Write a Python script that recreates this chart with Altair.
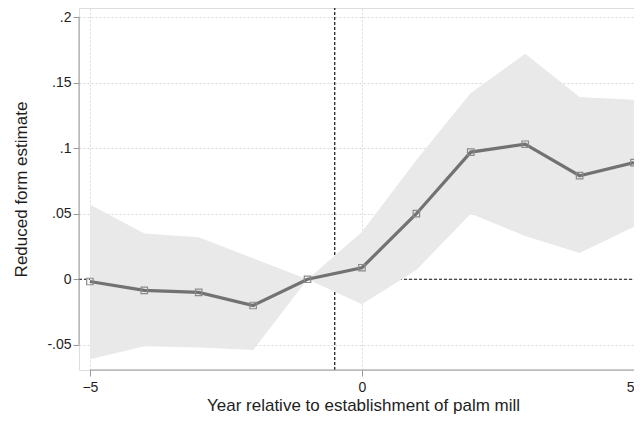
import altair as alt
import pandas as pd

# ---- data ----
years = [-5, -4, -3, -2, -1, 0, 1, 2, 3, 4, 5]
estimate = [-0.0017, -0.0085, -0.010, -0.020, 0.0, 0.0088, 0.050, 0.097, 0.103, 0.079, 0.089]
ci_upper = [0.057, 0.035, 0.032, 0.016, 0.0, 0.036, 0.091, 0.142, 0.172, 0.139, 0.137]
ci_lower = [-0.061, -0.051, -0.052, -0.054, 0.0, -0.019, 0.007, 0.050, 0.033, 0.020, 0.040]

x_ticks = [-5, 0, 5]
y_ticks = [-0.05, 0, 0.05, 0.1, 0.15, 0.2]
y_tick_labels = ["-.05", "0", ".05", ".1", ".15", ".2"]
event_x = -0.5
x_domain = [-5.2, 5]
y_domain = [-0.0692, 0.2069]

df = pd.DataFrame({"year": years, "est": estimate, "lo": ci_lower, "hi": ci_upper})

label_expr = "".join(
    f"abs(datum.value - ({v})) < 1e-6 ? '{l}' : " for v, l in zip(y_ticks, y_tick_labels)
) + "''"

FONT = "Liberation Sans"
GRID = "#d9d9d9"
AXIS = "#9a9a9a"
TXT = "#1e1e1e"

xscale = alt.Scale(domain=x_domain, nice=False, zero=False)
yscale = alt.Scale(domain=y_domain, nice=False, zero=False)

xaxis = alt.Axis(values=x_ticks, title="Year relative to establishment of palm mill",
                 grid=True, gridColor=GRID, gridDash=[2, 2], gridWidth=1,
                 domain=False, tickColor=AXIS, tickSize=6, labelPadding=4,
                 labelFlush=True,
                 labelFont=FONT, labelFontSize=14, labelColor=TXT,
                 titleFont=FONT, titleFontSize=17, titleFontWeight="normal",
                 titleColor=TXT, titlePadding=3, titleX=284)
yaxis = alt.Axis(values=y_ticks, labelExpr=label_expr, title="Reduced form estimate",
                 grid=True, gridColor=GRID, gridDash=[2, 2], gridWidth=1,
                 domain=False, tickColor=AXIS, tickSize=6, labelPadding=2,
                 labelFont=FONT, labelFontSize=14, labelColor=TXT,
                 titleFont=FONT, titleFontSize=17, titleFontWeight="normal",
                 titleColor=TXT, titlePadding=16)

X = alt.X("year:Q", scale=xscale, axis=xaxis)
Y = alt.Y("est:Q", scale=yscale, axis=yaxis)

hline_df = pd.DataFrame({"year": [x_domain[0]], "year2": [x_domain[1]], "est": [0.0]})
vline_df = pd.DataFrame({"year": [event_x], "est": [y_domain[0]], "est2": [y_domain[1]]})
yaxis_df = pd.DataFrame({"year": [x_domain[0]], "est": [y_ticks[0]], "est2": [y_ticks[-1]]})
xaxis_df = pd.DataFrame({"year": [x_ticks[0]], "year2": [x_ticks[-1]], "est": [y_domain[0]]})

hline = alt.Chart(hline_df).mark_rule(color="#111", strokeDash=[3, 2], strokeWidth=1.2).encode(
    x=X, x2="year2:Q", y=Y)
vline = alt.Chart(vline_df).mark_rule(color="#111", strokeDash=[3, 2], strokeWidth=1.2).encode(
    x=X, y=Y, y2="est2:Q")
band = alt.Chart(df).mark_area(color="#e9e9e9", opacity=1).encode(
    x=X, y=alt.Y("lo:Q", scale=yscale, axis=yaxis), y2="hi:Q")
line = alt.Chart(df).mark_line(color="#727272", strokeWidth=3.2).encode(x=X, y=Y)
pts = alt.Chart(df).mark_point(shape="square", size=42, filled=False, color="#8a8a8a",
                               strokeWidth=1.2, opacity=1).encode(x=X, y=Y)
yaxis_line = alt.Chart(yaxis_df).mark_rule(color=AXIS, strokeWidth=1).encode(
    x=X, y=Y, y2="est2:Q")
xaxis_line = alt.Chart(xaxis_df).mark_rule(color=AXIS, strokeWidth=1).encode(
    x=X, x2="year2:Q", y=Y)

chart = alt.layer(hline, vline, band, line, pts, yaxis_line, xaxis_line).properties(
    width=555, height=362,
    autosize=alt.AutoSizeParams(type="none"),
    padding={"left": 71, "top": 0, "right": 0, "bottom": 46},
).configure_view(stroke=None).configure(background="white")

chart.save("out.html", embed_options={"renderer": "svg", "actions": False})
